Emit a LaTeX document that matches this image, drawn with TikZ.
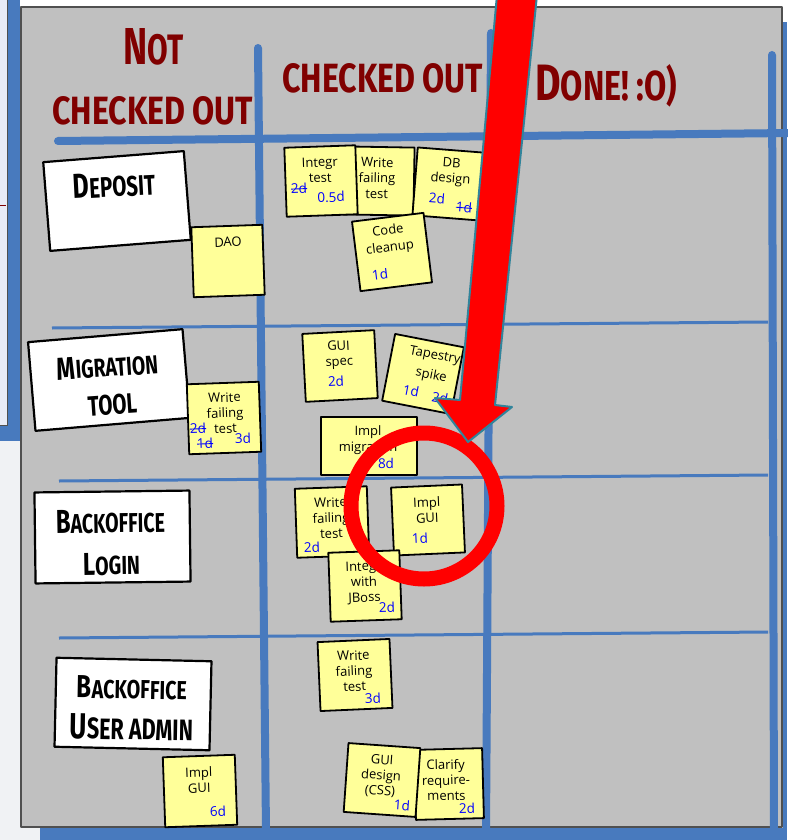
\documentclass[tikz,border=0pt]{standalone}
\usepackage{fontspec}
\usepackage{graphicx}
\newfontfamily\notefont{Open Sans}
\newfontfamily\hdrfont{Fira Sans}
\definecolor{boardgray}{RGB}{192,192,192}
\definecolor{boardblue}{RGB}{72,122,190}
\definecolor{noteyellow}{RGB}{255,255,153}
\definecolor{hdrred}{RGB}{128,0,0}
\definecolor{estblue}{RGB}{0,0,255}
\definecolor{arrowteal}{RGB}{49,132,155}
\definecolor{lavender}{RGB}{233,236,247}
\definecolor{leftgray}{RGB}{240,242,244}
\definecolor{edgegray}{RGB}{80,80,80}
\newcommand\mySc[2]{\scalebox{1.22}{#1}#2}
\newcommand\fitbox[3]{\resizebox{#1pt}{#2pt}{#3}}
\newcommand\myStrike[1]{\setbox0\hbox{#1}\rlap{\rule[0.28em]{\wd0}{0.9pt}}\box0}
\tikzset{
  sticky/.style={draw=black, line width=1.8pt, fill=noteyellow, inner sep=0pt},
  card/.style={draw=black, line width=2.2pt, fill=white, inner sep=0pt},
  ntxt/.style={font=\notefont\fontsize{13}{15.5}\selectfont, align=center, inner sep=0pt, text=black},
  est/.style={font=\notefont\fontsize{13.5}{14}\selectfont, text=estblue, inner sep=0pt},
  hdr/.style={text=hdrred, font=\hdrfont\bfseries, inner sep=0pt},
  ctxt/.style={text=black, font=\hdrfont\bfseries, inner sep=0pt},
  bline/.style={draw=boardblue, line width=8pt, line cap=round},
  rline/.style={draw=boardblue, line width=3pt},
}
\begin{document}
\begin{tikzpicture}[x=1pt,y=-1pt,line join=round]
\useasboundingbox (0,0) rectangle (787,840);
% background
\fill[white] (0,0) rectangle (787,840);
\fill[leftgray] (0,441) rectangle (40,840);
\fill[boardblue] (0,0) rectangle (20,441);
\filldraw[fill=lavender, draw=edgegray, line width=1pt] (-2,-2) rectangle (7,425);
\fill[boardblue] (783,22) rectangle (787,840);
\fill[boardblue] (40,828) rectangle (787,840);
\filldraw[fill=boardgray, draw=edgegray, line width=1.2pt] (21,7) rectangle (782,827);
\draw[hdrred, line width=1pt] (0,205) -- (6,205);
% board lines
\coordinate (v1a) at (258,48);  \coordinate (v1b) at (266,832);
\coordinate (v2a) at (491,33);  \coordinate (v2b) at (486,832);
\coordinate (v3a) at (772,55);  \coordinate (v3b) at (774,832);
\coordinate (h0a) at (58,141);  \coordinate (h0b) at (790,133);
\coordinate (r1a) at (52,328);  \coordinate (r1b) at (768,322);
\coordinate (r2a) at (59,481);  \coordinate (r2b) at (768,475);
\coordinate (r3a) at (59,638);  \coordinate (r3b) at (768,632);
\draw[rline] (r1a) -- (r1b);
\draw[rline] (r2a) -- (r2b);
\draw[rline] (r3a) -- (r3b);
\draw[bline] (v1a) -- (v1b);
\draw[bline] (v2a) -- (v2b);
\draw[bline] (v3a) -- (v3b);
\draw[bline] (h0a) -- (h0b);
% headers
\node[hdr, anchor=base west] (hNot) at (123,65) {\fitbox{60}{36}{\mySc{N}{OT}}};
\node[hdr, anchor=base west] (hNotCo) at (52,125) {\fitbox{201}{28}{CHECKED OUT}};
\node[hdr, anchor=base west] (hCo) at (282,93) {\fitbox{201}{29}{CHECKED OUT}};
\node[hdr, anchor=base west] (hDone) at (535,101) {\fitbox{142}{36}{\mySc{D}{ONE! :O)}}};
% cards
\node[card, minimum width=141pt, minimum height=89pt, rotate=4.5] (cDeposit) at (117,201) {};
\node[ctxt, rotate=3] (tDeposit) at (114,185) {\fitbox{82}{24}{\mySc{D}{EPOSIT}}};
\node[card, minimum width=155pt, minimum height=89pt, rotate=4.8] (cMig) at (109,380) {};
\node[ctxt, rotate=4] (tMig1) at (107.5,366) {\fitbox{101}{22}{\mySc{M}{IGRATION}}};
\node[ctxt, rotate=4] (tMig2) at (112.5,405) {\fitbox{49}{20}{TOOL}};
\node[card, minimum width=155pt, minimum height=91pt, rotate=0.7] (cLogin) at (112.5,537) {};
\node[ctxt, rotate=1] (tLogin1) at (110.5,521.5) {\fitbox{109}{23}{\mySc{B}{ACKOFFICE}}};
\node[ctxt, rotate=1] (tLogin2) at (111.5,564) {\fitbox{57}{22}{\mySc{L}{OGIN}}};
\node[card, minimum width=155pt, minimum height=89pt, rotate=-1.3] (cAdmin) at (133,704) {};
\node[ctxt, rotate=-1] (tAdmin1) at (132,688) {\fitbox{110}{22}{\mySc{B}{ACKOFFICE}}};
\node[ctxt, rotate=-1] (tAdmin2) at (131.5,727.5) {\fitbox{123}{25}{\mySc{U}{SER ADMIN}}};
% column 1 notes
\node[sticky, minimum width=71pt, minimum height=70pt, rotate=2] (nDAO) at (228,261) {};
\node[ntxt, rotate=2] (tDAO) at (228,242) {DAO};
\node[sticky, minimum width=72pt, minimum height=70pt, rotate=2] (nWftM) at (224,418) {};
\node[ntxt, rotate=2] (tWftM) at (225,413) {Write\\failing\\test};
\node[est, rotate=2] (eWftM1) at (198,428) {\myStrike{2d}};
\node[est, rotate=2] (eWftM2) at (205,443) {\myStrike{1d}};
\node[est, rotate=2] (eWftM3) at (243,438) {3d};
\node[sticky, minimum width=72pt, minimum height=70pt, rotate=2] (nGuiA) at (200,791) {};
\node[ntxt, rotate=2] (tGuiA) at (199,780) {Impl\\GUI};
\node[est, rotate=2] (eGuiA) at (218,811) {6d};
% column 2, deposit row
\node[sticky, minimum width=70pt, minimum height=68pt, rotate=-1] (nWftD) at (379,181) {};
\node[ntxt, rotate=-1] (tWftD) at (377,178) {Write\\failing\\test};
\node[sticky, minimum width=71pt, minimum height=69pt, rotate=2] (nIntegr) at (321,181) {};
\node[ntxt, rotate=2] (tIntegr) at (320,170) {Integr\\test};
\node[est, rotate=2] (eIntegr1) at (299,188) {\myStrike{2d}};
\node[est, rotate=2] (eIntegr2) at (331,197) {0.5d};
\node[sticky, minimum width=68pt, minimum height=68pt, rotate=-4.5] (nDB) at (449,184) {};
\node[ntxt, rotate=-4.5] (tDB) at (451,172) {DB\\design};
\node[est, rotate=-4.5] (eDB1) at (437,198) {2d};
\node[est, rotate=-4.5] (eDB2) at (464,207) {\myStrike{1d}};
\node[sticky, minimum width=72pt, minimum height=70pt, rotate=7] (nCode) at (392,252) {};
\node[ntxt, rotate=7, font=\notefont\fontsize{13}{17}\selectfont] (tCode) at (389,240) {Code\\cleanup};
\node[est, rotate=7] (eCode) at (380,274) {1d};
% column 2, migration row
\node[sticky, minimum width=72pt, minimum height=68pt, rotate=3] (nSpec) at (340,366) {};
\node[ntxt, rotate=3] (tSpec) at (339,355) {GUI\\spec};
\node[est, rotate=3] (eSpec) at (336,381) {2d};
\node[sticky, minimum width=70pt, minimum height=68pt, rotate=-11] (nTap) at (423,374) {};
\node[ntxt, rotate=-11, font=\notefont\fontsize{13}{20}\selectfont] (tTap) at (433,366) {Tapestry\\spike};
\node[est, rotate=-11] (eTap1) at (411,391) {1d};
\node[est, rotate=-11] (eTap2) at (440,398) {2d};
\node[sticky, minimum width=96pt, minimum height=58pt] (nMig) at (369,446) {};
\node[ntxt] (tMigN) at (368,440) {Impl\\migration};
\node[est] (eMigN) at (386,463) {8d};
% column 2, login row
\node[sticky, minimum width=72pt, minimum height=69pt, rotate=2] (nWftL) at (332,522) {};
\node[ntxt, rotate=2] (tWftL) at (331,518) {Write\\failing\\test};
\node[est, rotate=2] (eWftL) at (312,547) {2d};
\node[sticky, minimum width=71pt, minimum height=68pt, rotate=2.5] (nGuiL) at (428,520) {};
\node[ntxt, rotate=2.5] (tGuiL) at (427,510) {Impl\\GUI};
\node[est, rotate=2.5] (eGuiL) at (420,538) {1d};
\node[sticky, minimum width=71pt, minimum height=69pt, rotate=2] (nJBoss) at (365,586) {};
\node[ntxt, rotate=2] (tJBoss) at (364,583) {Integr\\with\\JBoss};
\node[est, rotate=2] (eJBoss) at (387,607) {2d};
% column 2, admin row
\node[sticky, minimum width=72pt, minimum height=69pt, rotate=2.5] (nWftA) at (355,675) {};
\node[ntxt, rotate=2.5] (tWftA) at (354,671) {Write\\failing\\test};
\node[est, rotate=2.5] (eWftA) at (373,698) {3d};
\node[sticky, minimum width=68pt, minimum height=70pt, rotate=1.5] (nClar) at (449,784) {};
\node[ntxt, rotate=1.5] (tClar) at (446,780) {Clarify\\require-\\ments};
\node[est, rotate=1.5] (eClar) at (467,808) {2d};
\node[sticky, minimum width=72pt, minimum height=69pt, rotate=-4] (nCss) at (382,780) {};
\node[ntxt, rotate=-4] (tCss) at (381,776) {GUI\\design\\(CSS)};
\node[est, rotate=-4] (eCss) at (402,805) {1d};
% highlight ring and arrow
\node[circle, draw=red, line width=15pt, minimum size=146pt, inner sep=0pt] (ring) at (424,506) {};
\filldraw[fill=red, draw=arrowteal, line width=2pt]
  (497,-5) -- (460,400) -- (435,398) -- (468,442) -- (512,407) -- (495,405) -- (537,-5) -- cycle;
\end{tikzpicture}
\end{document}
